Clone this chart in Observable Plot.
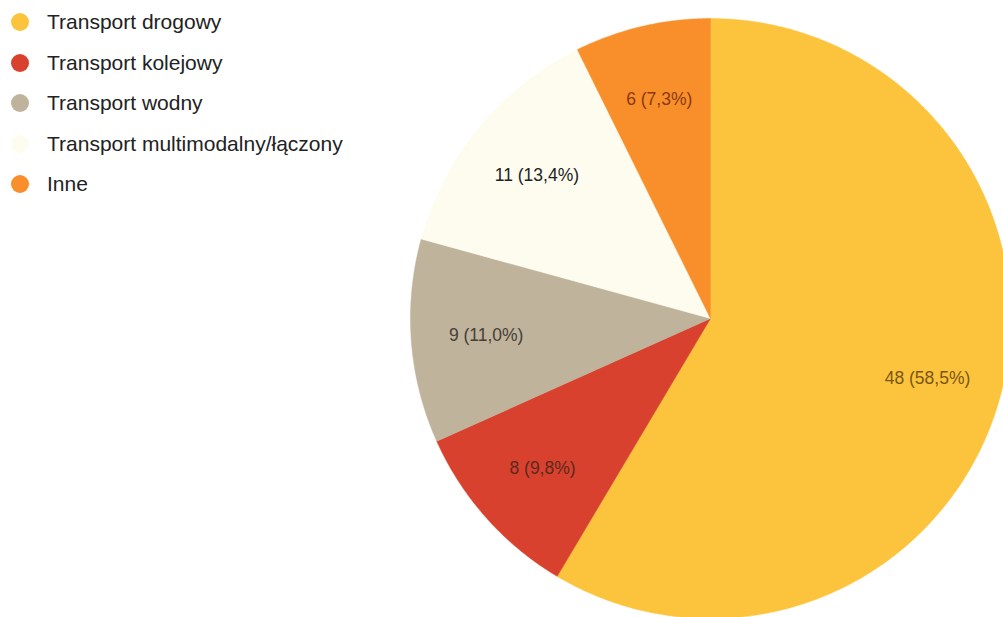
<!DOCTYPE html>
<html>
<head>
<meta charset="utf-8">
<script src="https://cdn.jsdelivr.net/npm/d3@7"></script>
<script src="https://cdn.jsdelivr.net/npm/@observablehq/plot@0.6"></script>
<style>
  html, body { margin: 0; padding: 0; background: #fff; }
  #wrap { position: relative; width: 1003px; height: 617px; overflow: hidden; }
  #legend { position: absolute; left: 11px; top: 2px; font-family: "Liberation Sans", Arial, sans-serif; font-size: 21px; color: #222; }
  #legend .item { display: flex; align-items: center; height: 40.5px; }
  #legend .dot { width: 18px; height: 18px; border-radius: 50%; margin-right: 18px; flex: none; }
</style>
</head>
<body>
<div id="wrap">
  <div id="chart"></div>
  <div id="legend"></div>
</div>
<script>
const categories = ["Transport drogowy", "Transport kolejowy", "Transport wodny", "Transport multimodalny/łączony", "Inne"];
const values = [48, 8, 9, 11, 6];
const percents = ["58,5%", "9,8%", "11,0%", "13,4%", "7,3%"];
const colors = ["#fcc43c", "#d9412f", "#bfb39c", "#fefcef", "#f98f2b"];
const labelColors = ["#7a5618", "#5a2a1c", "#454039", "#222222", "#8a3a12"];

const pie = d3.pie().sort(null).value(d => d.value)(
  categories.map((name, i) => ({name, value: values[i], pct: percents[i], labelColor: labelColors[i]}))
);

// polygon points for each slice (unit circle, angle measured clockwise from top)
const pts = [];
for (const a of pie) {
  const n = Math.max(2, Math.ceil((a.endAngle - a.startAngle) / 0.01));
  pts.push({name: a.data.name, x: 0, y: 0});
  for (let k = 0; k <= n; k++) {
    const t = a.startAngle + (a.endAngle - a.startAngle) * k / n;
    pts.push({name: a.data.name, x: Math.sin(t), y: Math.cos(t)});
  }
  pts.push({name: a.data.name, x: 0, y: 0});
}
const labels = pie.map(a => {
  const m = (a.startAngle + a.endAngle) / 2;
  return {name: a.data.name, text: `${a.data.value} (${a.data.pct})`, x: 0.75 * Math.sin(m), y: 0.75 * Math.cos(m), c: a.data.labelColor, bold: a.data.name.includes("multimodalny")};
});

const chart = Plot.plot({
  width: 1003,
  height: 617,
  margin: 0,
  x: {domain: [-1, 1], range: [410, 1010], axis: null},
  y: {domain: [-1, 1], range: [618, 18], axis: null},
  color: {domain: categories, range: colors},
  style: {background: "#fff"},
  marks: [
    Plot.line(pts, {x: "x", y: "y", z: "name", fill: "name", stroke: "name", strokeWidth: 0.5, curve: "linear"}),
    Plot.text(labels, {x: "x", y: "y", text: "text", fill: "c", fontSize: 17.5, fontFamily: "Liberation Sans, Arial, sans-serif", fontWeight: d => d.bold ? "bold" : "normal"})
  ]
});
document.getElementById("chart").appendChild(chart);

const legend = d3.select("#legend");
categories.forEach((c, i) => {
  const item = legend.append("div").attr("class", "item");
  item.append("span").attr("class", "dot").style("background", colors[i]);
  item.append("span").text(c);
});
</script>
</body>
</html>
